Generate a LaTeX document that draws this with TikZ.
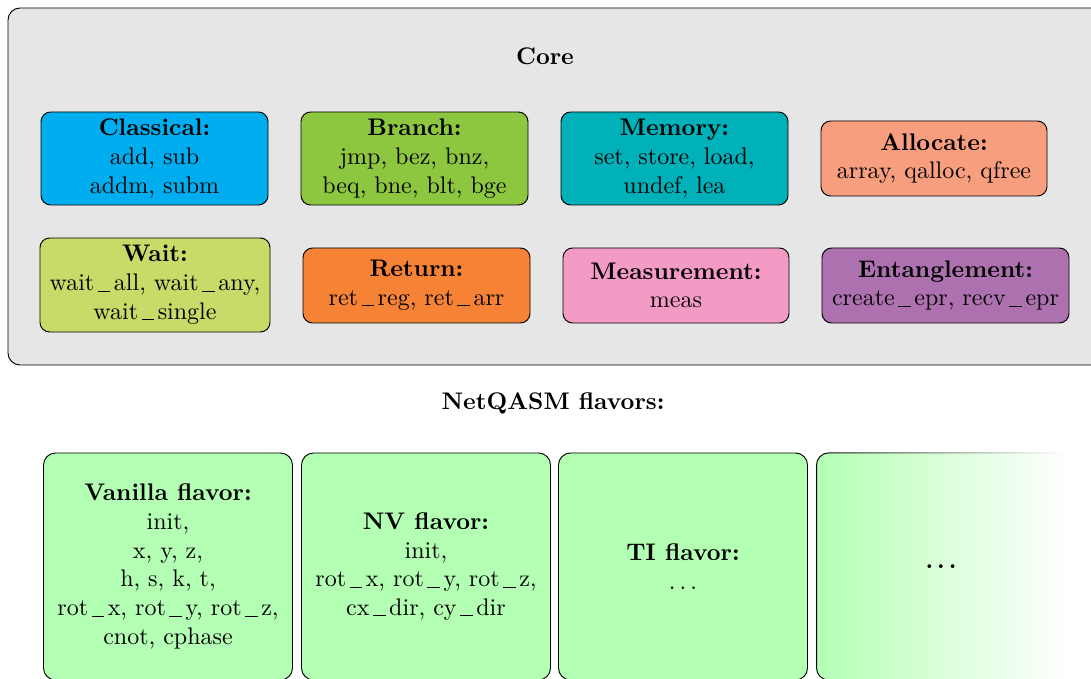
\documentclass[tikz,border=0pt]{standalone}
\usetikzlibrary{fadings,shadings}
\definecolor{corebg}{HTML}{E6E6E6}
\definecolor{ccyan}{HTML}{00AEEF}
\definecolor{cbranch}{HTML}{8DC63F}
\definecolor{cmem}{HTML}{00B1BA}
\definecolor{calloc}{HTML}{F79E7E}
\definecolor{cwait}{HTML}{C8DA67}
\definecolor{creturn}{HTML}{F58235}
\definecolor{cmeas}{HTML}{F39AC5}
\definecolor{cent}{HTML}{AE71AF}
\definecolor{cflav}{HTML}{B3FFB3}
\newcommand\us{\leavevmode\kern0.15em\rule[-0.3pt]{0.52em}{0.4pt}\kern0.15em}
\newcommand\mydots{.\kern0.1667em.\kern0.1667em.}
\tikzset{
  instr/.style={draw, rounded corners=4pt, align=center, inner sep=2pt},
  flav/.style={draw, rounded corners=5pt, align=center, fill=cflav,
    minimum width={249*0.41667pt}, minimum height={227*0.41667pt}},
}
\begin{document}
\begin{tikzpicture}[x=0.41667pt, y=-0.41667pt]
\useasboundingbox (0,0) rectangle (1091,679);
% core container
\node[draw, fill=corebg, rounded corners=5pt, minimum width={1110*0.41667pt}, minimum height={357*0.41667pt}] (core) at (563,186.5) {};
\node[font=\bfseries] (coretitle) at (545,56) {Core};
% row 1
\node[instr, fill=ccyan, minimum width={227*0.41667pt}, minimum height={93*0.41667pt}] (classical) at (154.5,158.5)
  {\textbf{Classical:}\\add, sub\\addm, subm};
\node[instr, fill=cbranch, minimum width={227*0.41667pt}, minimum height={93*0.41667pt}] (branch) at (414.5,158.5)
  {\textbf{Branch:}\\jmp, bez, bnz,\\beq, bne, blt, bge};
\node[instr, fill=cmem, minimum width={227*0.41667pt}, minimum height={93*0.41667pt}] (memory) at (674.5,158.5)
  {\textbf{Memory:}\\set, store, load,\\undef, lea};
\node[instr, fill=calloc, minimum width={226*0.41667pt}, minimum height={75*0.41667pt}] (allocate) at (934,158.5)
  {\textbf{Allocate:}\\array, qalloc, qfree};
% row 2
\node[instr, fill=cwait, minimum width={230*0.41667pt}, minimum height={94*0.41667pt}] (wait) at (155,285)
  {\textbf{Wait:}\\wait\us all, wait\us any,\\wait\us single};
\node[instr, fill=creturn, minimum width={227*0.41667pt}, minimum height={75*0.41667pt}] (return) at (416.5,285.5)
  {\textbf{Return:}\\ret\us reg, ret\us arr};
\node[instr, fill=cmeas, minimum width={226*0.41667pt}, minimum height={75*0.41667pt}] (meas) at (676,285.5)
  {\textbf{Measurement:}\\meas};
\node[instr, fill=cent, minimum width={247*0.41667pt}, minimum height={75*0.41667pt}] (ent) at (945.5,285.5)
  {\textbf{Entanglement:}\\create\us epr, recv\us epr};
% flavors
\node[font=\bfseries] (flavtitle) at (553,403) {NetQASM flavors:};
\node[flav] (vanilla) at (168,566.5)
  {\textbf{Vanilla flavor:}\\init,\\x, y, z,\\h, s, k, t,\\rot\us x, rot\us y, rot\us z,\\cnot, cphase};
\node[flav] (nv) at (426,566.5)
  {\textbf{NV flavor:}\\init,\\rot\us x, rot\us y, rot\us z,\\cx\us dir, cy\us dir};
\node[flav] (ti) at (683,566.5)
  {\textbf{TI flavor:}\\\mydots};
\node[draw, fill=cflav, rounded corners=5pt, path fading=east,
  minimum width={249*0.41667pt}, minimum height={227*0.41667pt}] (more) at (941,566.5) {};
\node (moredots) at (941,566.5) {\textbf{\mydots}};
\end{tikzpicture}
\end{document}
